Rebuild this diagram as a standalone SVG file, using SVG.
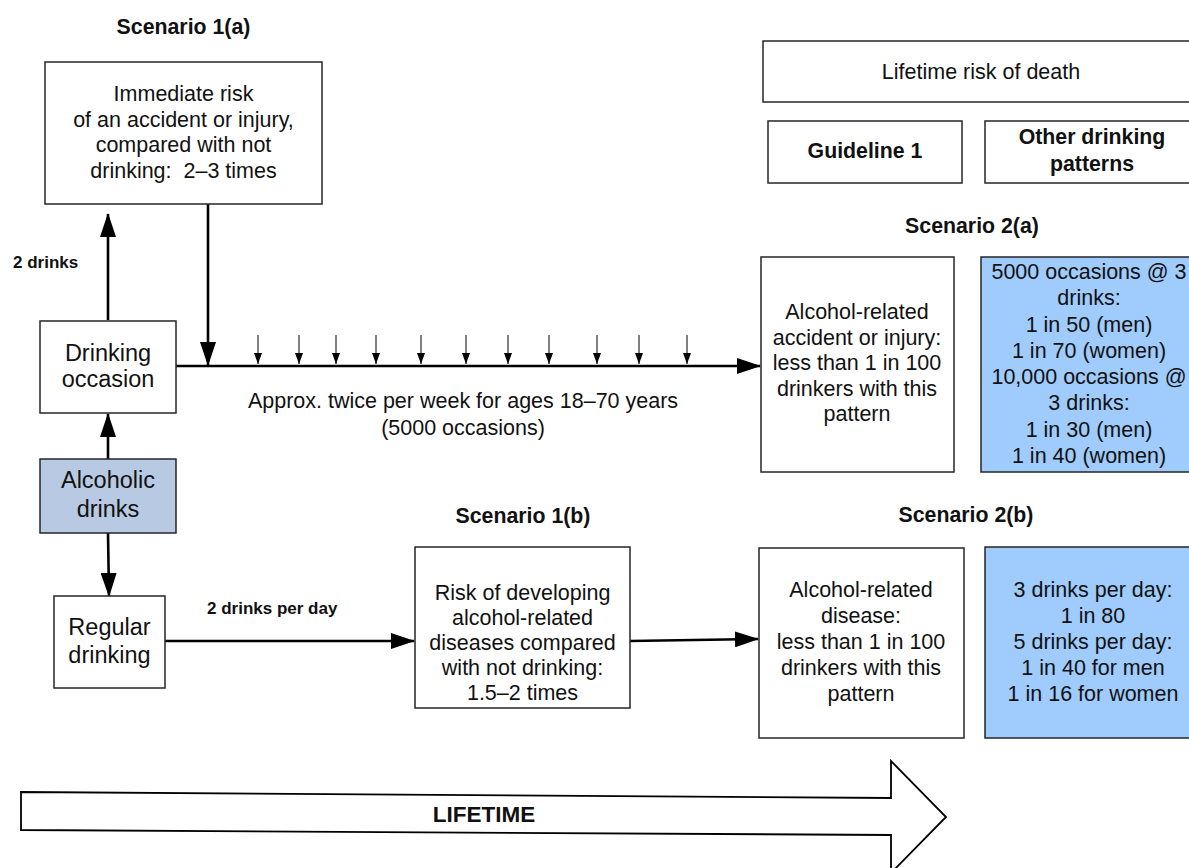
<svg xmlns="http://www.w3.org/2000/svg" width="1189" height="868" viewBox="0 0 1189 868">
<style>
.box{fill:#fff;stroke:#262626;stroke-width:1.5}
.blue{fill:#9fcbfd;stroke:#262626;stroke-width:1.5}
.alc{fill:#b8cae3;stroke:#262626;stroke-width:1.5}
text{font-family:"Liberation Sans",Arial,sans-serif;fill:#111}
.t{font-size:21.5px;text-anchor:middle}
.tl{font-size:23.5px;text-anchor:middle}
.h{font-size:21.3px;font-weight:bold;text-anchor:middle}
.s{font-size:17px;font-weight:bold}
.big{stroke:#000;stroke-width:2.6;fill:none;marker-end:url(#ah)}
.tick{stroke:#000;stroke-width:1;fill:none;marker-end:url(#sh)}
</style>
<defs>
<marker id="ah" markerUnits="userSpaceOnUse" markerWidth="24" markerHeight="16" refX="23" refY="8" orient="auto"><path d="M0,0 L24,8 L0,16 z" fill="#000"/></marker>
<marker id="sh" markerUnits="userSpaceOnUse" markerWidth="11" markerHeight="8" refX="11" refY="4" orient="auto"><path d="M0,0 L11,4 L0,8 z" fill="#000"/></marker>
</defs>

<text class="h" x="183.5" y="34">Scenario 1(a)</text>
<text class="h" x="972" y="233">Scenario 2(a)</text>
<text class="h" x="523" y="523">Scenario 1(b)</text>
<text class="h" x="966" y="522">Scenario 2(b)</text>

<g id="connectors">
<line class="big" x1="108" y1="320" x2="108" y2="214"/>
<line class="big" x1="208" y1="204" x2="208" y2="365"/>
<line class="big" x1="176" y1="366" x2="760" y2="366"/>
<line class="big" x1="108" y1="459" x2="108" y2="414"/>
<line class="big" x1="108" y1="533" x2="109" y2="596"/>
<line class="big" x1="165" y1="641" x2="414" y2="641"/>
<line class="big" x1="630" y1="641" x2="758" y2="639"/>
<line class="tick" x1="258" y1="335" x2="258" y2="364"/>
<line class="tick" x1="299" y1="335" x2="299" y2="364"/>
<line class="tick" x1="336" y1="335" x2="336" y2="364"/>
<line class="tick" x1="376" y1="335" x2="376" y2="364"/>
<line class="tick" x1="421" y1="335" x2="421" y2="364"/>
<line class="tick" x1="466" y1="335" x2="466" y2="364"/>
<line class="tick" x1="508" y1="335" x2="508" y2="364"/>
<line class="tick" x1="549" y1="335" x2="549" y2="364"/>
<line class="tick" x1="597" y1="335" x2="597" y2="364"/>
<line class="tick" x1="639" y1="335" x2="639" y2="364"/>
<line class="tick" x1="687" y1="335" x2="687" y2="364"/>
<text class="s" x="13" y="268">2 drinks</text>
<text class="s" x="207" y="614">2 drinks per day</text>
<text class="t" x="463" y="408">Approx. twice per week for ages 18–70 years</text>
<text class="t" x="463" y="435">(5000 occasions)</text>
</g>

<g id="immediate">
<rect class="box" x="45" y="62" width="277" height="142"/>
<text class="t" x="183.5" y="101">Immediate risk</text>
<text class="t" x="183.5" y="127">of an accident or injury,</text>
<text class="t" x="183.5" y="152">compared with not</text>
<text class="t" x="183.5" y="178">drinking:&#160; 2–3 times</text>
</g>

<g id="occasion">
<rect class="box" x="40" y="321" width="136" height="92"/>
<text class="tl" x="108" y="361">Drinking</text>
<text class="tl" x="108" y="387">occasion</text>
</g>

<g id="alcoholic">
<rect class="alc" x="40" y="459" width="136" height="74"/>
<text class="tl" x="108" y="488">Alcoholic</text>
<text class="tl" x="108" y="517">drinks</text>
</g>

<g id="regular">
<rect class="box" x="54" y="596" width="111" height="92"/>
<text class="tl" x="109.5" y="635">Regular</text>
<text class="tl" x="109.5" y="663">drinking</text>
</g>

<g id="disease-risk">
<rect class="box" x="415" y="547" width="215" height="161"/>
<text class="t" x="522.5" y="600">Risk of developing</text>
<text class="t" x="522.5" y="625">alcohol-related</text>
<text class="t" x="522.5" y="650">diseases compared</text>
<text class="t" x="522.5" y="675">with not drinking:</text>
<text class="t" x="522.5" y="700">1.5–2 times</text>
</g>

<g id="lifetime-risk">
<rect class="box" x="763" y="41" width="440" height="61"/>
<text class="t" x="981" y="79">Lifetime risk of death</text>
</g>

<g id="guideline">
<rect class="box" x="768" y="121" width="194" height="62"/>
<text class="h" x="865" y="158">Guideline 1</text>
</g>

<g id="other">
<rect class="box" x="985" y="121" width="220" height="62"/>
<text class="h" x="1092" y="144">Other drinking</text>
<text class="h" x="1092" y="171">patterns</text>
</g>

<g id="s2a-guideline">
<rect class="box" x="761" y="257" width="193" height="215"/>
<text class="t" x="857" y="319">Alcohol-related</text>
<text class="t" x="857" y="345">accident or injury:</text>
<text class="t" x="857" y="370">less than 1 in 100</text>
<text class="t" x="857" y="396">drinkers with this</text>
<text class="t" x="857" y="421">pattern</text>
</g>

<g id="s2a-other">
<rect class="blue" x="981" y="257" width="222" height="215"/>
<text class="t" x="1089" y="279">5000 occasions @ 3</text>
<text class="t" x="1089" y="305">drinks:</text>
<text class="t" x="1089" y="332">1 in 50 (men)</text>
<text class="t" x="1089" y="358">1 in 70 (women)</text>
<text class="t" x="1089" y="384">10,000 occasions @</text>
<text class="t" x="1089" y="410">3 drinks:</text>
<text class="t" x="1089" y="437">1 in 30 (men)</text>
<text class="t" x="1089" y="463">1 in 40 (women)</text>
</g>

<g id="s2b-guideline">
<rect class="box" x="759" y="548" width="205" height="190"/>
<text class="t" x="861" y="597">Alcohol-related</text>
<text class="t" x="861" y="623">disease:</text>
<text class="t" x="861" y="649">less than 1 in 100</text>
<text class="t" x="861" y="675">drinkers with this</text>
<text class="t" x="861" y="701">pattern</text>
</g>

<g id="s2b-other">
<rect class="blue" x="985" y="547" width="220" height="191"/>
<text class="t" x="1093" y="597">3 drinks per day:</text>
<text class="t" x="1093" y="623">1 in 80</text>
<text class="t" x="1093" y="649">5 drinks per day:</text>
<text class="t" x="1093" y="675">1 in 40 for men</text>
<text class="t" x="1093" y="701">1 in 16 for women</text>
</g>

<g id="lifetime-arrow">
<polygon points="21,792 891,798 891,761 946,817 891,873 891,835 21,830" fill="#fff" stroke="#000" stroke-width="1.8" stroke-linejoin="miter"/>
<text x="484" y="822" style="font-size:22.5px;font-weight:bold;text-anchor:middle">LIFETIME</text>
</g>
</svg>
